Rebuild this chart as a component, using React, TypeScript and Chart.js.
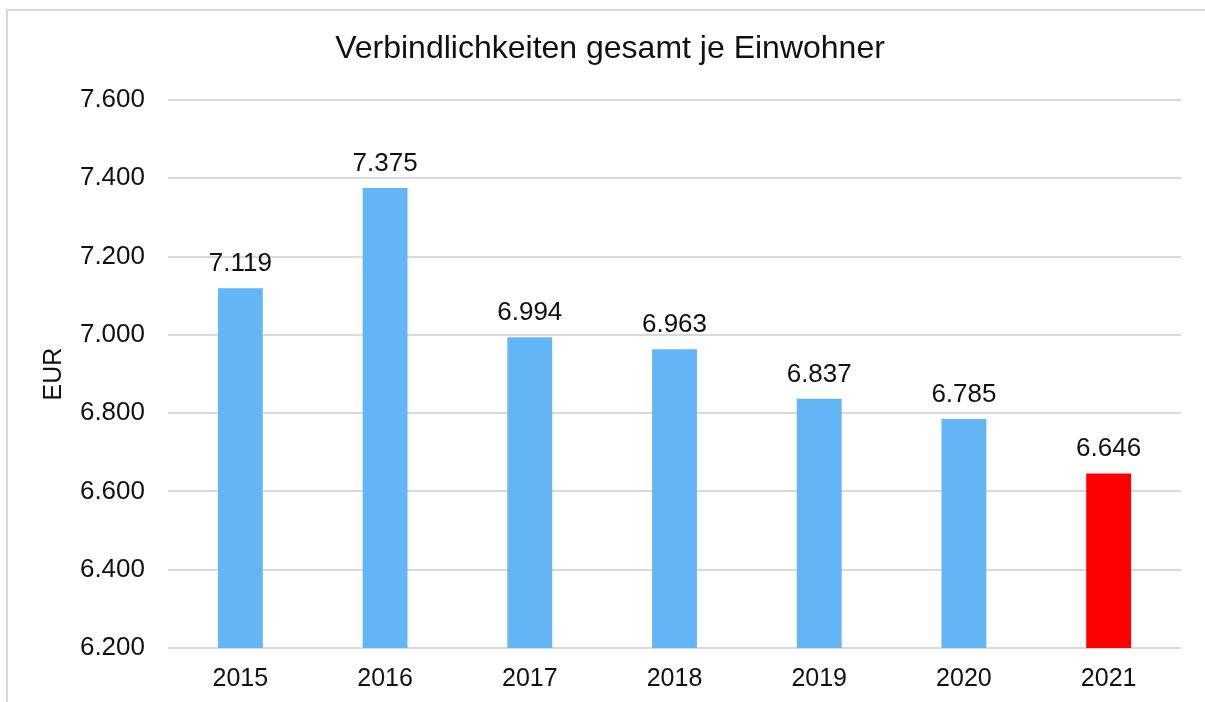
import React, { useEffect, useRef } from "react";
import { Chart, registerables } from "chart.js";

Chart.register(...registerables);

const title = "Verbindlichkeiten gesamt je Einwohner";
const yAxisTitle = "EUR";
const categories = ["2015", "2016", "2017", "2018", "2019", "2020", "2021"];
const values = [7119, 7375, 6994, 6963, 6837, 6785, 6646];
const barColors = ["#64B5F6", "#64B5F6", "#64B5F6", "#64B5F6", "#64B5F6", "#64B5F6", "#FF0000"];
const yMin = 6200;
const yMax = 7600;
const yStep = 200;

const FONT = "Liberation Sans, Arial, sans-serif";

const fmt = (v: number) => {
  const s = Math.round(v).toString();
  return s.replace(/\B(?=(\d{3})+(?!\d))/g, ".");
};

const valueLabels = {
  id: "valueLabels",
  afterDatasetsDraw(chart: any) {
    const ctx = chart.ctx;
    const meta = chart.getDatasetMeta(0);
    ctx.save();
    ctx.font = `26px ${FONT}`;
    ctx.fillStyle = "#111";
    ctx.textAlign = "center";
    ctx.textBaseline = "alphabetic";
    meta.data.forEach((bar: any, i: number) => {
      ctx.fillText(fmt(values[i]), bar.x, bar.y - 17);
    });
    ctx.restore();
  },
};

const chartTitle = {
  id: "chartTitle",
  afterDraw(chart: any) {
    const ctx = chart.ctx;
    ctx.save();
    ctx.font = `32px ${FONT}`;
    ctx.fillStyle = "#111";
    ctx.textAlign = "center";
    ctx.textBaseline = "alphabetic";
    ctx.fillText(title, 610, 58);
    ctx.restore();
  },
};

export default function App() {
  const ref = useRef<HTMLCanvasElement>(null);
  useEffect(() => {
    if (!ref.current) return;
    const chart = new Chart(ref.current, {
      type: "bar",
      data: {
        labels: categories,
        datasets: [
          {
            data: values,
            backgroundColor: barColors,
            borderWidth: 0,
            barPercentage: 0.31,
            categoryPercentage: 1,
          },
        ],
      },
      options: {
        responsive: false,
        animation: false,
        layout: { padding: { left: 0, right: 24, top: 100, bottom: 0 } },
        plugins: {
          legend: { display: false },
          tooltip: { enabled: false },
          title: { display: false },
        },
        scales: {
          x: {
            grid: { display: false, drawTicks: false },
            border: { display: false },
            ticks: {
              color: "#111",
              font: { family: FONT, size: 25 },
              padding: 16,
              maxRotation: 0,
            },
            afterFit: (s: any) => {
              s.height = 54;
            },
          },
          y: {
            min: yMin,
            max: yMax,
            ticks: {
              stepSize: yStep,
              color: "#111",
              font: { family: FONT, size: 26 },
              padding: 23,
              callback: (v: any) => fmt(Number(v)),
            },
            grid: { color: "#d9d9d9", lineWidth: 2, drawTicks: false },
            border: { display: false },
            title: {
              display: true,
              text: yAxisTitle,
              color: "#111",
              font: { family: FONT, size: 25 },
              padding: { top: 39, bottom: 0 },
            },
            afterFit: (s: any) => {
              s.width = 168;
            },
          },
        },
      },
      plugins: [valueLabels, chartTitle],
    });
    return () => chart.destroy();
  }, []);

  return (
    <div
      style={{
        position: "fixed",
        left: 0,
        top: 0,
        width: 1205,
        height: 702,
        overflow: "hidden",
        background: "#fff",
      }}
    >
      <div
        style={{
          position: "absolute",
          left: 6,
          top: 9,
          width: 1300,
          height: 800,
          border: "2px solid #d9d9d9",
        }}
      />
      <canvas
        ref={ref}
        width={1205}
        height={702}
        style={{ position: "absolute", left: 0, top: 0, width: 1205, height: 702 }}
      />
    </div>
  );
}
